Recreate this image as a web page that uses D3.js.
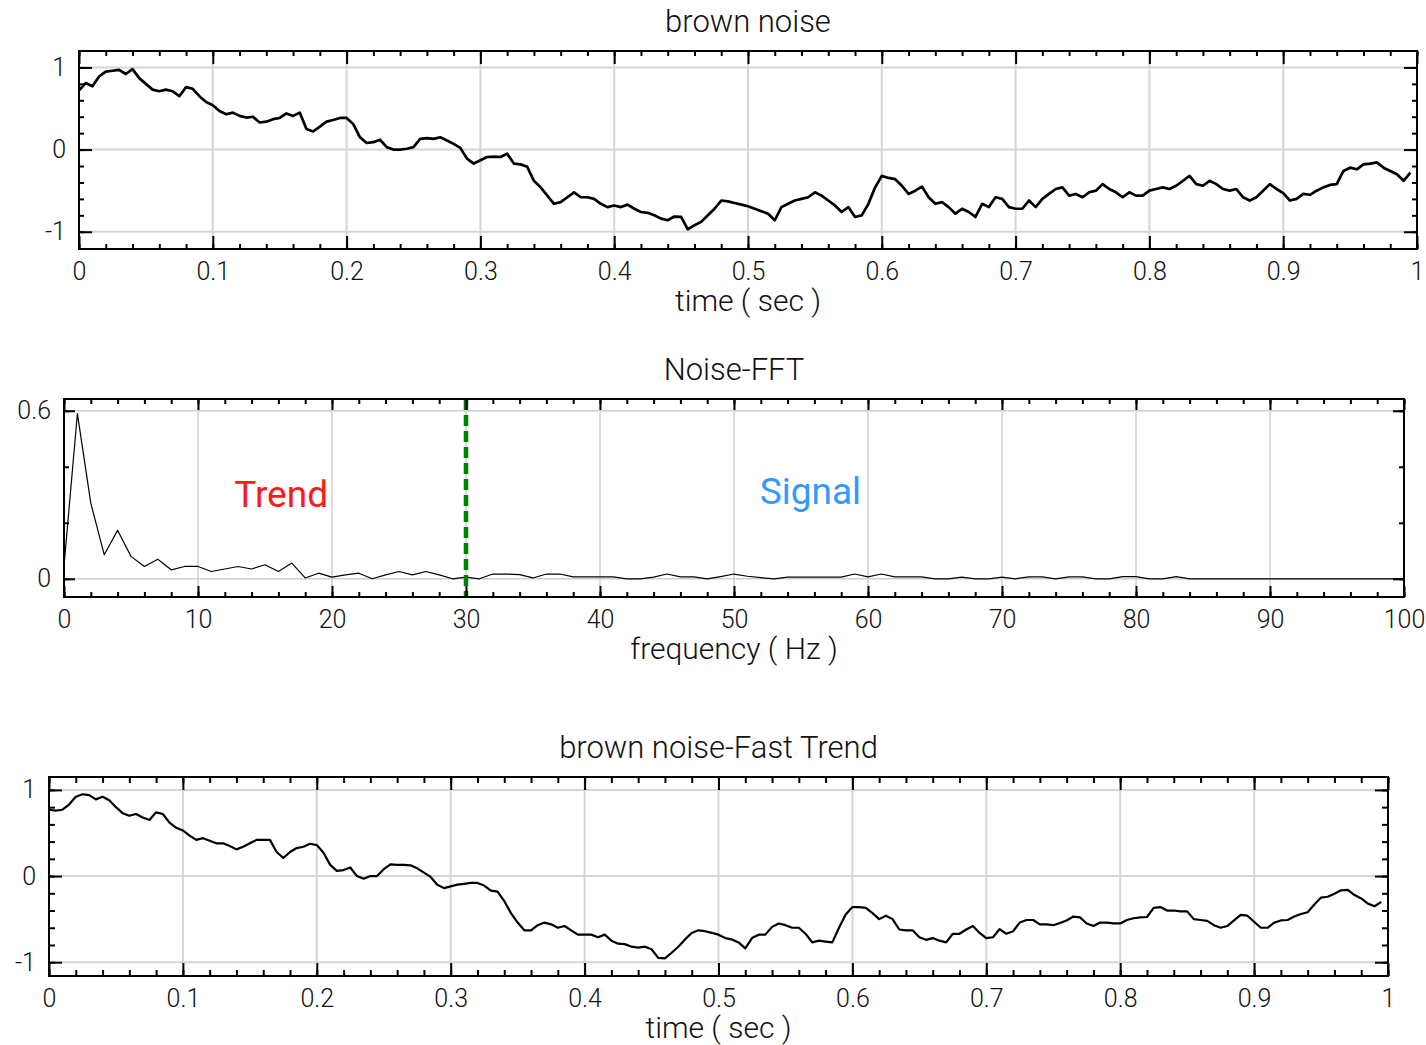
<!DOCTYPE html>
<html lang="en">
<head>
<meta charset="utf-8">
<script src="https://d3js.org/d3.v7.min.js"></script>
<style type="text/css">
body {
	margin: 0;
	background: #fff;
}
text {
	font-family: Roboto, "Liberation Sans", Arial, sans-serif;
	font-weight: 300;
	fill: #111;
}
.title {
	font-size: 31px;
}
.axisLabel {
	font-size: 30px;
}
.tick text {
	font-size: 25px;
	font-family: Roboto, "Liberation Sans", Arial, sans-serif;
	font-weight: 300;
	fill: #111;
}
.tick line {
	stroke: #000;
	stroke-width: 2;
}
</style>
</head>
<body>
<script type="text/javascript">

// sample step of the two time signals (sec)
var dt = 0.005;

// brown noise, every 5 ms
var brownNoise = [
  0.72, 0.81, 0.77, 0.89, 0.95, 0.96, 0.97, 0.92, 0.98, 0.87,
  0.80, 0.73, 0.71, 0.73, 0.71, 0.65, 0.76, 0.74, 0.65, 0.58,
  0.54, 0.47, 0.43, 0.45, 0.41, 0.39, 0.40, 0.33, 0.34, 0.37,
  0.385, 0.44, 0.41, 0.45, 0.25, 0.22, 0.28, 0.34, 0.36, 0.385,
  0.385, 0.31, 0.15, 0.08, 0.09, 0.12, 0.03, 0.0, 0.0, 0.01,
  0.03, 0.13, 0.14, 0.13, 0.15, 0.11, 0.07, 0.02, -0.11, -0.17,
  -0.13, -0.09, -0.085, -0.09, -0.05, -0.17, -0.18, -0.21, -0.38, -0.46,
  -0.56, -0.66, -0.64, -0.58, -0.52, -0.58, -0.58, -0.60, -0.66, -0.70,
  -0.68, -0.70, -0.67, -0.72, -0.76, -0.77, -0.80, -0.84, -0.86, -0.815,
  -0.82, -0.97, -0.92, -0.88, -0.80, -0.72, -0.62, -0.63, -0.65, -0.67,
  -0.69, -0.72, -0.75, -0.78, -0.86, -0.70, -0.66, -0.62, -0.60, -0.58,
  -0.52, -0.56, -0.62, -0.68, -0.76, -0.70, -0.82, -0.80, -0.66, -0.46,
  -0.32, -0.345, -0.36, -0.44, -0.54, -0.50, -0.45, -0.58, -0.66, -0.64,
  -0.70, -0.78, -0.72, -0.76, -0.82, -0.66, -0.70, -0.58, -0.60, -0.70,
  -0.72, -0.72, -0.62, -0.70, -0.60, -0.54, -0.48, -0.46, -0.56, -0.54,
  -0.58, -0.52, -0.50, -0.42, -0.48, -0.52, -0.58, -0.52, -0.56, -0.56,
  -0.50, -0.48, -0.46, -0.48, -0.44, -0.38, -0.32, -0.42, -0.44, -0.38,
  -0.42, -0.48, -0.50, -0.48, -0.58, -0.62, -0.58, -0.50, -0.42, -0.48,
  -0.53, -0.62, -0.60, -0.54, -0.55, -0.50, -0.46, -0.43, -0.42, -0.26,
  -0.22, -0.24, -0.18, -0.17, -0.155, -0.22, -0.26, -0.30, -0.38, -0.28
];

// FFT magnitude, one value per Hz from 0 to 100
var fftMag = [
  0.045, 0.59, 0.27, 0.086, 0.173, 0.08, 0.044, 0.07, 0.032, 0.044,
  0.044, 0.026, 0.035, 0.044, 0.035, 0.05, 0.026, 0.056, 0.003, 0.02,
  0.006, 0.014, 0.02, 0.0, 0.014, 0.026, 0.014, 0.026, 0.014, 0.0,
  0.006, 0.0, 0.017, 0.017, 0.015, 0.003, 0.017, 0.017, 0.007, 0.007,
  0.007, 0.007, 0.0, 0.0, 0.006, 0.017, 0.007, 0.007, 0.0, 0.008,
  0.017, 0.009, 0.004, 0.0, 0.006, 0.006, 0.006, 0.006, 0.006, 0.017,
  0.007, 0.017, 0.007, 0.007, 0.007, 0.0, 0.0, 0.006, 0.0, 0.0,
  0.006, 0.0, 0.007, 0.007, 0.0, 0.007, 0.007, 0.0, 0.0, 0.008,
  0.008, 0.0, 0.0, 0.008, 0.0, 0.0, 0.0, 0.0, 0.0, 0.0,
  0.0, 0.0, 0.0, 0.0, 0.0, 0.0, 0.0, 0.0, 0.0, 0.0,
  0.0
];

// brown noise minus fast trend, every 5 ms
var fastTrend = [
  0.77, 0.76, 0.77, 0.83, 0.92, 0.95, 0.94, 0.89, 0.92, 0.88,
  0.80, 0.73, 0.70, 0.72, 0.68, 0.65, 0.74, 0.72, 0.62, 0.56,
  0.53, 0.47, 0.42, 0.44, 0.41, 0.38, 0.38, 0.35, 0.31, 0.34,
  0.38, 0.42, 0.42, 0.42, 0.28, 0.21, 0.28, 0.325, 0.34, 0.375,
  0.36, 0.27, 0.13, 0.06, 0.07, 0.10, 0.0, -0.03, 0.0, 0.0,
  0.08, 0.135, 0.13, 0.13, 0.125, 0.09, 0.04, -0.01, -0.10, -0.14,
  -0.12, -0.10, -0.09, -0.08, -0.08, -0.11, -0.17, -0.18, -0.29, -0.43,
  -0.54, -0.63, -0.63, -0.57, -0.54, -0.56, -0.60, -0.58, -0.63, -0.68,
  -0.68, -0.68, -0.71, -0.68, -0.75, -0.785, -0.79, -0.82, -0.83, -0.82,
  -0.85, -0.95, -0.955, -0.89, -0.82, -0.735, -0.66, -0.63, -0.64, -0.66,
  -0.68, -0.72, -0.735, -0.77, -0.84, -0.72, -0.68, -0.68, -0.59, -0.55,
  -0.57, -0.60, -0.60, -0.67, -0.77, -0.75, -0.76, -0.77, -0.60, -0.445,
  -0.36, -0.36, -0.37, -0.43, -0.50, -0.46, -0.50, -0.62, -0.63, -0.63,
  -0.71, -0.74, -0.72, -0.75, -0.77, -0.67, -0.67, -0.62, -0.58, -0.66,
  -0.72, -0.71, -0.615, -0.67, -0.64, -0.54, -0.51, -0.51, -0.56, -0.56,
  -0.57, -0.545, -0.515, -0.47, -0.48, -0.55, -0.58, -0.54, -0.54, -0.55,
  -0.55, -0.51, -0.49, -0.48, -0.475, -0.37, -0.36, -0.40, -0.40, -0.41,
  -0.41, -0.50, -0.51, -0.52, -0.57, -0.60, -0.58, -0.515, -0.45, -0.46,
  -0.53, -0.60, -0.60, -0.54, -0.515, -0.51, -0.47, -0.44, -0.42, -0.33,
  -0.25, -0.24, -0.205, -0.165, -0.16, -0.22, -0.26, -0.32, -0.35, -0.30
];

// tick values and labels
var timeTicks = [0, 0.1, 0.2, 0.3, 0.4, 0.5, 0.6, 0.7, 0.8, 0.9, 1];
var timeLabels = ["0", "0.1", "0.2", "0.3", "0.4", "0.5", "0.6", "0.7", "0.8", "0.9", "1"];
var freqTicks = [0, 10, 20, 30, 40, 50, 60, 70, 80, 90, 100];
var freqLabels = ["0", "10", "20", "30", "40", "50", "60", "70", "80", "90", "100"];
var ampTicks = [-1, 0, 1];
var ampLabels = ["-1", "0", "1"];
var magTicks = [0, 0.6];
var magLabels = ["0", "0.6"];

// cut-off between trend and signal (Hz)
var cutoff = 30;

var width = 1426;
var height = 1045;

var svg = d3.select("body")
            .append("svg")
            .attr("width", width)
            .attr("height", height);

// one framed panel with inside ticks on all four sides
function drawPanel(p) {
  var g = svg.append("g")
             .attr("transform", "translate(" + p.left + "," + p.top + ")");

  var x = d3.scaleLinear().domain(p.xDomain).range([0, p.w]);
  var y = d3.scaleLinear().domain(p.yDomain).range([p.h, 0]);

  // grid
  g.append("g")
   .selectAll("line")
   .data(p.xTicks.slice(1, -1))
   .join("line")
   .attr("x1", x).attr("x2", x)
   .attr("y1", 0).attr("y2", p.h)
   .style("stroke", p.gridColor)
   .style("stroke-width", p.gridWidth);

  g.append("g")
   .selectAll("line")
   .data(p.yTicks)
   .join("line")
   .attr("x1", 0).attr("x2", p.w)
   .attr("y1", y).attr("y2", y)
   .style("stroke", p.gridColor)
   .style("stroke-width", p.gridWidth);

  // trace
  var line = d3.line()
               .x(function(d, i) { return x(i * p.step); })
               .y(function(d) { return y(d); });

  g.append("path")
   .datum(p.values)
   .attr("d", line)
   .style("fill", "none")
   .style("stroke", "#000")
   .style("stroke-width", p.lineWidth)
   .style("stroke-linejoin", "round");

  // extra marks drawn over the trace (cut-off line, labels)
  if (p.extra) p.extra(g, x, y);

  // ticks: major and minor, bottom/top/left/right
  var xMinor = d3.ticks(p.xDomain[0], p.xDomain[1], p.xMinorCount);
  var yMinor = d3.ticks(p.yTicks[0], p.yTicks[p.yTicks.length - 1], p.yMinorCount);

  function clean(sel) { sel.select(".domain").remove(); }

  g.append("g")
   .attr("transform", "translate(0," + p.h + ")")
   .call(d3.axisBottom(x).tickValues(xMinor).tickSize(-p.minorLen).tickFormat(""))
   .call(clean);
  g.append("g")
   .attr("transform", "translate(0," + p.h + ")")
   .call(d3.axisBottom(x).tickValues(p.xTicks).tickSizeInner(-p.majorLen).tickSizeOuter(0)
           .tickPadding(13).tickFormat(function(d, i) { return p.xLabels[i]; }))
   .call(clean);
  g.append("g")
   .call(d3.axisTop(x).tickValues(xMinor).tickSize(-p.minorLen).tickFormat(""))
   .call(clean);
  g.append("g")
   .call(d3.axisTop(x).tickValues(p.xTicks).tickSize(-p.majorLen).tickFormat(""))
   .call(clean);

  g.append("g")
   .call(d3.axisLeft(y).tickValues(yMinor).tickSize(-p.minorLen).tickFormat(""))
   .call(clean);
  g.append("g")
   .call(d3.axisLeft(y).tickValues(p.yTicks).tickSizeInner(-p.majorLen).tickSizeOuter(0)
           .tickPadding(13).tickFormat(function(d, i) { return p.yLabels[i]; }))
   .call(clean);
  g.append("g")
   .attr("transform", "translate(" + p.w + ",0)")
   .call(d3.axisRight(y).tickValues(yMinor).tickSize(-p.minorLen).tickFormat(""))
   .call(clean);
  g.append("g")
   .attr("transform", "translate(" + p.w + ",0)")
   .call(d3.axisRight(y).tickValues(p.yTicks).tickSize(-p.majorLen).tickFormat(""))
   .call(clean);

  g.selectAll(".tick text").attr("font-size", null).attr("font-family", null).attr("fill", null);

  // frame
  g.append("rect")
   .attr("width", p.w)
   .attr("height", p.h)
   .style("fill", "none")
   .style("stroke", "#000")
   .style("stroke-width", 2);

  // title and axis label
  g.append("text")
   .attr("class", "title")
   .attr("x", p.w / 2)
   .attr("y", -19)
   .attr("text-anchor", "middle")
   .text(p.title);

  g.append("text")
   .attr("class", "axisLabel")
   .attr("x", p.w / 2)
   .attr("y", p.h + 62)
   .attr("text-anchor", "middle")
   .text(p.xTitle);
}

drawPanel({
  left: 79, top: 51, w: 1338, h: 198,
  xDomain: [0, 1], yDomain: [-1.21, 1.2],
  xTicks: timeTicks, xLabels: timeLabels, xMinorCount: 50,
  yTicks: ampTicks, yLabels: ampLabels, yMinorCount: 10,
  values: brownNoise, step: dt, lineWidth: 2.7,
  gridColor: "#d6d6d6", gridWidth: 2,
  majorLen: 13, minorLen: 5,
  title: "brown noise", xTitle: "time ( sec )"
});

drawPanel({
  left: 64, top: 399, w: 1340, h: 198,
  xDomain: [0, 100], yDomain: [-0.065, 0.642],
  xTicks: freqTicks, xLabels: freqLabels, xMinorCount: 50,
  yTicks: magTicks, yLabels: magLabels, yMinorCount: 3,
  values: fftMag, step: 1, lineWidth: 1.2,
  gridColor: "#cfcfcf", gridWidth: 1.5,
  majorLen: 11, minorLen: 5,
  title: "Noise-FFT", xTitle: "frequency ( Hz )",
  extra: function(g, x, y) {
    g.append("line")
     .attr("x1", x(cutoff)).attr("x2", x(cutoff))
     .attr("y1", 0).attr("y2", 198)
     .style("stroke", "#008000")
     .style("stroke-width", 4.5)
     .style("stroke-dasharray", "11,5");

    g.append("text")
     .attr("x", x(16.2))
     .attr("y", y(0.258))
     .attr("text-anchor", "middle")
     .style("font-size", "37px")
     .style("font-weight", 400)
     .style("fill", "#ff1a1a")
     .text("Trend");

    g.append("text")
     .attr("x", x(55.7))
     .attr("y", y(0.268))
     .attr("text-anchor", "middle")
     .style("font-size", "37px")
     .style("font-weight", 400)
     .style("fill", "#3399ff")
     .text("Signal");
  }
});

drawPanel({
  left: 49, top: 777, w: 1339, h: 199,
  xDomain: [0, 1], yDomain: [-1.16, 1.15],
  xTicks: timeTicks, xLabels: timeLabels, xMinorCount: 50,
  yTicks: ampTicks, yLabels: ampLabels, yMinorCount: 10,
  values: fastTrend, step: dt, lineWidth: 2.2,
  gridColor: "#d6d6d6", gridWidth: 2,
  majorLen: 13, minorLen: 6,
  title: "brown noise-Fast Trend", xTitle: "time ( sec )"
});

</script>
</body>
</html>
